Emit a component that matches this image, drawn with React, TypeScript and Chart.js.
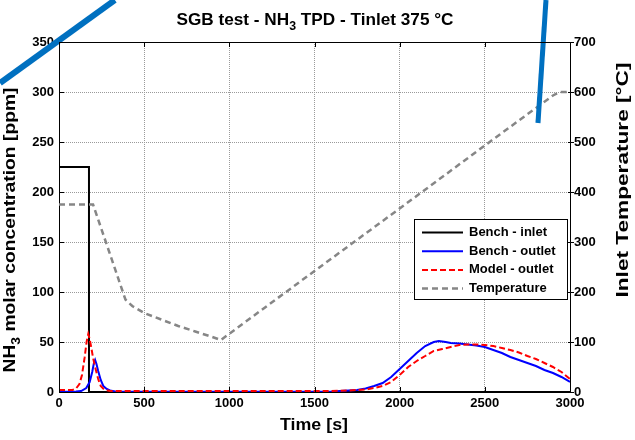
import React, { useEffect, useRef } from "react";
import { Chart, registerables } from "chart.js";

Chart.register(...registerables);

// ---- data ----
const inletTime = [0, 176, 176, 3000];
const inletPpm = [225, 225, 0, 0];

const benchOutTime = [0, 100, 130, 160, 180, 195, 205, 212, 220, 230, 245, 260, 280, 300, 330, 400, 800, 1200, 1500, 1600, 1700, 1750, 1800, 1850, 1900, 1950, 2000, 2050, 2100, 2150, 2200, 2230, 2270, 2300, 2350, 2400, 2450, 2500, 2550, 2600, 2650, 2700, 2750, 2800, 2850, 2900, 2950, 3000];
const benchOutPpm = [0.3, 0.5, 1, 4, 10, 20, 29, 32, 28, 21, 12, 6, 3, 1.5, 0.5, 0.2, 0.2, 0.2, 0.3, 0.5, 1.5, 2, 3.5, 6, 9, 15, 23, 31, 39, 46, 50, 51, 50, 49, 48.5, 47.5, 46.5, 45, 42, 39, 35, 32, 29, 26, 22, 19, 15, 10];

const modelOutTime = [0, 80, 100, 120, 135, 150, 162, 172, 180, 190, 200, 215, 230, 245, 265, 300, 800, 1200, 1600, 1700, 1800, 1850, 1900, 1950, 2000, 2050, 2100, 2150, 2200, 2250, 2300, 2350, 2400, 2450, 2500, 2550, 2600, 2650, 2700, 2750, 2800, 2850, 2900, 2950, 3000];
const modelOutPpm = [2, 2, 3.5, 8, 17, 34, 50, 58, 53, 44, 34, 23, 13, 6, 2.5, 1, 1, 1, 1, 1.5, 2.5, 4, 6, 10, 17, 25, 31, 36, 41, 43, 45, 47, 47.5, 47.5, 47, 46, 44, 42, 39.5, 36, 33, 29, 25, 20, 13];

const tempTime = [0, 200, 390, 430, 500, 600, 700, 800, 900, 950, 1500, 2000, 2500, 2900, 2940, 3000];
const tempC = [375, 375, 185, 172, 158, 145, 132, 121, 110, 104, 242, 367, 493, 593, 600, 600];

// hand-drawn pen strokes over the figure (time [s], ppm)
const strokeOneTime = [-346, 328];
const strokeOnePpm = [309, 392];
const strokeTwoTime = [2859, 2812];
const strokeTwoPpm = [392, 269];

const xTicks = [0, 500, 1000, 1500, 2000, 2500, 3000];
const seriesLabels = ["Bench - inlet", "Bench - outlet", "Model - outlet", "Temperature"];

const FONT = "'Liberation Sans', Arial, sans-serif";

const pts = (xs: number[], ys: number[]) => xs.map((x, i) => ({ x, y: ys[i] }));

type Seg = { t: string; sub?: boolean };

function richWidth(ctx: CanvasRenderingContext2D, segs: Seg[], size: number) {
  let w = 0;
  for (const s of segs) {
    ctx.font = `bold ${s.sub ? size * 0.72 : size}px ${FONT}`;
    w += ctx.measureText(s.t).width;
  }
  return w;
}

function drawRich(
  ctx: CanvasRenderingContext2D,
  segs: Seg[],
  cx: number,
  cy: number,
  size: number,
  angle: number,
  targetLen: number
) {
  ctx.save();
  ctx.translate(cx, cy);
  ctx.rotate(angle);
  const w = richWidth(ctx, segs, size);
  ctx.scale(targetLen / w, 1);
  ctx.fillStyle = "#000";
  ctx.textBaseline = "alphabetic";
  ctx.textAlign = "left";
  let x = -w / 2;
  for (const s of segs) {
    ctx.font = `bold ${s.sub ? size * 0.72 : size}px ${FONT}`;
    ctx.fillText(s.t, x, s.sub ? size * 0.3 : 0);
    x += ctx.measureText(s.t).width;
  }
  ctx.restore();
}

const decorPlugin = {
  id: "decor",
  afterDraw(chart: any) {
    const { ctx, chartArea } = chart;
    const { left, right, top, bottom } = chartArea;
    ctx.save();

    // frame
    ctx.strokeStyle = "#000";
    ctx.lineWidth = 1;
    ctx.setLineDash([]);
    ctx.beginPath();
    ctx.moveTo(left, top + 0.5);
    ctx.lineTo(right, top + 0.5);
    ctx.stroke();

    // inward tick marks
    const xs = chart.scales.x;
    const ys = chart.scales.y;
    const y1 = chart.scales.y1;
    ctx.beginPath();
    for (const t of xs.ticks) {
      const px = Math.round(xs.getPixelForValue(t.value)) + 0.5;
      ctx.moveTo(px, bottom);
      ctx.lineTo(px, bottom - 5);
      ctx.moveTo(px, top);
      ctx.lineTo(px, top + 5);
    }
    for (const t of ys.ticks) {
      const py = Math.round(ys.getPixelForValue(t.value)) + 0.5;
      ctx.moveTo(left, py);
      ctx.lineTo(left + 5, py);
    }
    for (const t of y1.ticks) {
      const py = Math.round(y1.getPixelForValue(t.value)) + 0.5;
      ctx.moveTo(right - 2, py);
      ctx.lineTo(right + 4, py);
    }
    ctx.stroke();

    // legend box
    const bx = right - 156;
    const by = top + 177;
    const bw = 153;
    const bh = 80;
    ctx.fillStyle = "#fff";
    ctx.fillRect(bx, by, bw, bh);
    ctx.strokeStyle = "#000";
    ctx.lineWidth = 1;
    ctx.strokeRect(bx + 0.5, by + 0.5, bw, bh);
    seriesLabels.forEach((label, i) => {
      const ds = chart.data.datasets[i];
      const ly = by + 13.5 + i * 18.7;
      ctx.save();
      ctx.strokeStyle = ds.borderColor;
      ctx.lineWidth = ds.borderWidth;
      ctx.setLineDash(ds.borderDash || []);
      ctx.beginPath();
      ctx.moveTo(bx + 8, ly);
      ctx.lineTo(bx + 49, ly);
      ctx.stroke();
      ctx.restore();
      ctx.fillStyle = "#000";
      ctx.font = `bold 13px ${FONT}`;
      ctx.textBaseline = "middle";
      ctx.textAlign = "left";
      ctx.fillText(label, bx + 55, ly);
    });

    // titles
    drawRich(ctx, [{ t: "SGB test - NH" }, { t: "3", sub: true }, { t: " TPD - Tinlet 375 °C" }], 315, 25, 17, 0, 277);
    drawRich(ctx, [{ t: "Time [s]" }], 314, 430, 17, 0, 68);
    drawRich(ctx, [{ t: "NH" }, { t: "3", sub: true }, { t: " molar concentration [ppm]" }], 15, 230, 17, -Math.PI / 2, 285);
    drawRich(ctx, [{ t: "Inlet Temperature [°C]" }], 628, 180, 17, -Math.PI / 2, 235);

    ctx.restore();
  },
};

export default function App() {
  const ref = useRef<HTMLCanvasElement | null>(null);

  useEffect(() => {
    const canvas = ref.current;
    if (!canvas) return;
    const tickFont = { family: FONT, size: 13, weight: "bold" as const };
    const plain = (v: any) => String(v);
    const chart = new Chart(canvas, {
      type: "line",
      data: {
        datasets: [
          {
            label: seriesLabels[0],
            data: pts(inletTime, inletPpm),
            borderColor: "#000000",
            borderWidth: 2,
            yAxisID: "y",
            order: 5,
          },
          {
            label: seriesLabels[1],
            data: pts(benchOutTime, benchOutPpm),
            borderColor: "#0000ff",
            borderWidth: 2,
            yAxisID: "y",
            order: 4,
          },
          {
            label: seriesLabels[2],
            data: pts(modelOutTime, modelOutPpm),
            borderColor: "#ff0000",
            borderWidth: 2,
            borderDash: [6, 3],
            yAxisID: "y",
            order: 3,
          },
          {
            label: seriesLabels[3],
            data: pts(tempTime, tempC),
            borderColor: "#868686",
            borderWidth: 2.5,
            borderDash: [6, 4],
            yAxisID: "y1",
            order: 2,
          },
          {
            label: "stroke1",
            data: pts(strokeOneTime, strokeOnePpm),
            borderColor: "#0070c0",
            borderWidth: 6,
            yAxisID: "y",
            clip: false,
            order: 1,
          },
          {
            label: "stroke2",
            data: pts(strokeTwoTime, strokeTwoPpm),
            borderColor: "#0070c0",
            borderWidth: 5,
            yAxisID: "y",
            clip: false,
            order: 0,
          },
        ] as any,
      },
      options: {
        animation: false,
        responsive: false,
        parsing: true,
        elements: { point: { radius: 0 }, line: { tension: 0 } },
        layout: { padding: { top: 42, left: 0, right: 0, bottom: 0 } },
        plugins: { legend: { display: false }, tooltip: { enabled: false }, title: { display: false } },
        scales: {
          x: {
            type: "linear",
            min: 0,
            max: 3000,
            afterBuildTicks: (s: any) => {
              s.ticks = xTicks.map((v) => ({ value: v }));
            },
            afterFit: (s: any) => {
              s.height = 48;
            },
            ticks: { font: tickFont, color: "#000", padding: 4, maxRotation: 0, autoSkip: false, callback: plain },
            grid: { color: "#9a9a9a", lineWidth: 1, drawTicks: false },
            border: { color: "#000", width: 1, dash: [1, 1] },
          },
          y: {
            type: "linear",
            position: "left",
            min: 0,
            max: 350,
            afterFit: (s: any) => {
              s.width = 59;
            },
            ticks: { stepSize: 50, font: tickFont, color: "#000", padding: 5, callback: plain },
            grid: { color: "#9a9a9a", lineWidth: 1, drawTicks: false },
            border: { color: "#000", width: 1, dash: [1, 1] },
          },
          y1: {
            type: "linear",
            position: "right",
            min: 0,
            max: 700,
            afterFit: (s: any) => {
              s.width = 65;
            },
            ticks: { stepSize: 100, font: tickFont, color: "#000", padding: 4, callback: plain },
            grid: { drawOnChartArea: false, drawTicks: false },
            border: { color: "#000", width: 1 },
          },
        },
      } as any,
      plugins: [decorPlugin],
    });
    return () => chart.destroy();
  }, []);

  return (
    <div style={{ position: "fixed", left: 0, top: 0, width: 635, height: 440, background: "#fff" }}>
      <canvas ref={ref} width={635} height={440} style={{ display: "block", width: 635, height: 440 }} />
    </div>
  );
}
